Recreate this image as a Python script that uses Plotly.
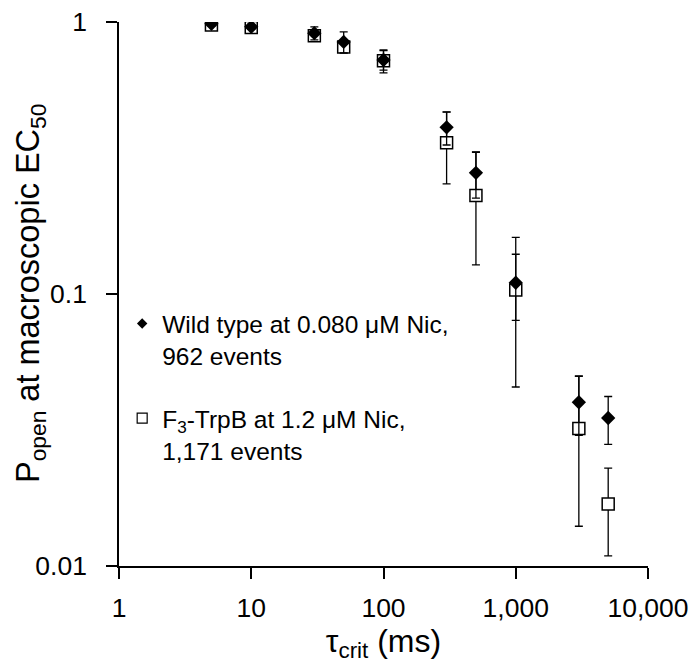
import plotly.graph_objects as go

# Data
tau_ms = [5, 10, 30, 50, 100, 300, 500, 1000, 3000, 5000]
wt_popen = [0.985, 0.96, 0.91, 0.845, 0.725, 0.41, 0.279, 0.110, 0.040, 0.035]
wt_err = [0.02, 0.02, 0.05, 0.075, 0.06, 0.057, 0.054, 0.030, 0.0098, 0.007]
f3_popen = [0.975, 0.955, 0.89, 0.81, 0.72, 0.36, 0.23, 0.1035, 0.032, 0.0169]
f3_err = [0.015, 0.015, 0.03, 0.04, 0.07, 0.106, 0.102, 0.058, 0.018, 0.006]

x_tickvals = [1, 10, 100, 1000, 10000]
x_ticktext = ["1", "10", "100", "1,000", "10,000"]
y_tickvals = [0.01, 0.1, 1]
y_ticktext = ["0.01", "0.1", "1"]

wt_label = "Wild type at 0.080 \u03bcM Nic,<br>962 events"
f3_label = "F<sub>3</sub>-TrpB at 1.2 \u03bcM Nic,<br>1,171 events"
y_title = "P<sub>open</sub> at macroscopic EC<sub>50</sub>"
x_title = "\u03c4<sub>crit</sub> (ms)"

FONT = "Liberation Sans, Arial, sans-serif"

fig = go.Figure()

# F3-TrpB (open squares)
fig.add_trace(go.Scatter(
    x=tau_ms, y=f3_popen, mode="markers", showlegend=False,
    marker=dict(symbol="square", size=12, color="white",
                line=dict(color="black", width=1.5)),
    error_y=dict(type="data", array=f3_err, symmetric=True,
                 color="black", thickness=1.3, width=4),
))

# Wild type (filled diamonds)
fig.add_trace(go.Scatter(
    x=tau_ms, y=wt_popen, mode="markers", showlegend=False,
    marker=dict(symbol="diamond", size=11, color="black",
                line=dict(color="black", width=0)),
    error_y=dict(type="data", array=wt_err, symmetric=True,
                 color="black", thickness=1.3, width=4),
))

# Legend entries
fig.add_trace(go.Scatter(
    x=[None], y=[None], mode="markers", name=wt_label, legendgroup="a",
    marker=dict(symbol="diamond", size=8, color="black"),
))
fig.add_trace(go.Scatter(
    x=[None], y=[None], mode="markers", name=f3_label, legendgroup="b",
    marker=dict(symbol="square", size=10, color="white",
                line=dict(color="black", width=1.2)),
))

fig.add_annotation(
    text=y_title, xref="paper", yref="paper", x=0, y=0.5,
    xshift=-89, xanchor="center", yanchor="middle", textangle=-90,
    showarrow=False, font=dict(size=32.5, family=FONT, color="black"),
)

fig.update_layout(
    width=698, height=668,
    margin=dict(l=119, r=50, t=22, b=102),
    paper_bgcolor="white", plot_bgcolor="white",
    font=dict(family=FONT, color="black", size=24),
    legend=dict(x=0.006, y=0.487, xanchor="left", yanchor="top",
                bgcolor="rgba(0,0,0,0)", font=dict(size=24.5, family=FONT),
                valign="top", traceorder="grouped", tracegroupgap=28,
                itemwidth=30),
    xaxis=dict(
        type="log", range=[0, 4], automargin=False,
        tickvals=x_tickvals, ticktext=x_ticktext,
        showgrid=False, zeroline=False,
        showline=True, linecolor="black", linewidth=1.5,
        ticks="outside", ticklen=11, tickwidth=1.5, tickcolor="black",
        tickfont=dict(size=26.5, family=FONT),
        ticklabelstandoff=6,
        title=dict(text=x_title, font=dict(size=32, family=FONT),
                   standoff=4),
    ),
    yaxis=dict(
        type="log", range=[-2, 0], automargin=False,
        tickvals=y_tickvals, ticktext=y_ticktext,
        showgrid=False, zeroline=False,
        showline=True, linecolor="black", linewidth=1.5,
        ticks="outside", ticklen=11, tickwidth=1.5, tickcolor="black",
        tickfont=dict(size=26.5, family=FONT),
        ticklabelstandoff=14,
    ),
)

fig.write_html("out.html")
